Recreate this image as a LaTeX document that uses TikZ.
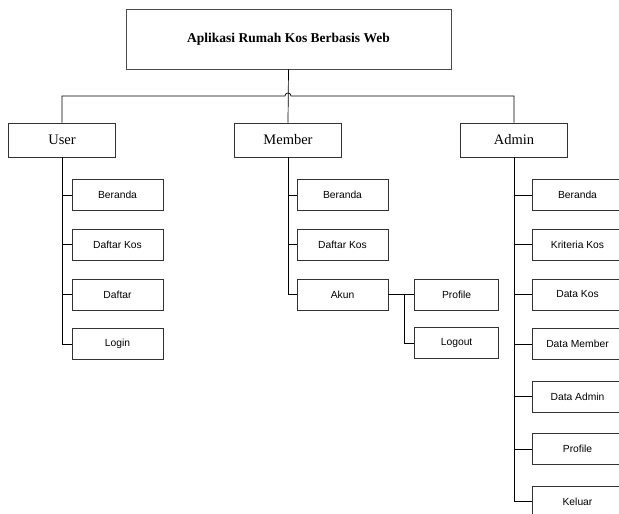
\documentclass[tikz,border=0pt]{standalone}
\usepackage{fontspec}
\setmainfont{Liberation Serif}
\setsansfont{Liberation Sans}
\usetikzlibrary{positioning}

\begin{document}
\begin{tikzpicture}[
    x=1pt, y=-1pt,
    root/.style={rectangle, draw=black!70, line width=0.9pt, minimum width=325pt, minimum height=60pt, inner sep=0pt, font=\bfseries\fontsize{13.5}{16}\selectfont},
    role/.style={rectangle, draw=black!80, line width=0.7pt, minimum width=107pt, minimum height=34pt, inner sep=0pt, font=\fontsize{14.5}{16}\selectfont},
    menu/.style={rectangle, draw=black!80, line width=0.6pt, minimum width=91pt, minimum height=31pt, inner sep=0pt, font=\sffamily\fontsize{10.3}{12}\selectfont},
    submenu/.style={menu, minimum width=84pt},
    trunk/.style={draw=black, line width=1pt},
    link/.style={draw=black, line width=0.7pt},
    node distance=18pt
]
% page is cut at the right and bottom edge, as in the scan
\clip (0,0) rectangle (619,514);

\node[root] (app) at (288.5,39) {Aplikasi Rumah Kos Berbasis Web};
\node[role] (user) at (62,140) {User};
\node[role] (member) at (288,140) {Member};
\node[role] (admin) at (514,140) {Admin};
\coordinate (bar) at (288,96);

% menu user
\node[menu, below=22pt of user, xshift=55.5pt] (u1) {Beranda};
\node[menu, below=of u1] (u2) {Daftar Kos};
\node[menu, below=of u2] (u3) {Daftar};
\node[menu, below=of u3] (u4) {Login};

% menu member
\node[menu, below=22pt of member, xshift=54.5pt] (m1) {Beranda};
\node[menu, below=of m1] (m2) {Daftar Kos};
\node[menu, below=of m2] (m3) {Akun};
\node[submenu, right=26pt of m3] (s1) {Profile};
\node[submenu, below=17pt of s1] (s2) {Logout};

% menu admin
\node[menu, below=22pt of admin, xshift=63.5pt] (a1) {Beranda};
\node[menu, below=of a1] (a2) {Kriteria Kos};
\node[menu, below=of a2] (a3) {Data Kos};
\node[menu, below=of a3] (a4) {Data Member};
\node[menu, below=21pt of a4] (a5) {Data Admin};
\node[menu, below=21pt of a5] (a6) {Profile};
\node[menu, below=21pt of a6] (a7) {Keluar};

% tree lines
\draw[link] (app.south) -- (member.north);
\draw[link] (user.north) |- ([xshift=-3]bar) .. controls +(0,-4) and +(0,-4) .. ([xshift=3]bar) -| (admin.north);

\draw[trunk] (user.south) -- (user.south |- u4.west);
\foreach \n in {u1,u2,u3,u4}
    \draw[link] (user.south |- \n.west) -- (\n.west);

\draw[trunk] (member.south) -- (member.south |- m3.west);
\foreach \n in {m1,m2,m3}
    \draw[link] (member.south |- \n.west) -- (\n.west);
\draw[link] (m3.east) -- (s1.west);
\draw[link] ([xshift=16]m3.east) |- (s2.west);

\draw[trunk] (admin.south) -- (admin.south |- a7.west);
\foreach \n in {a1,a2,a3,a4,a5,a6,a7}
    \draw[link] (admin.south |- \n.west) -- (\n.west);
\end{tikzpicture}
\end{document}
